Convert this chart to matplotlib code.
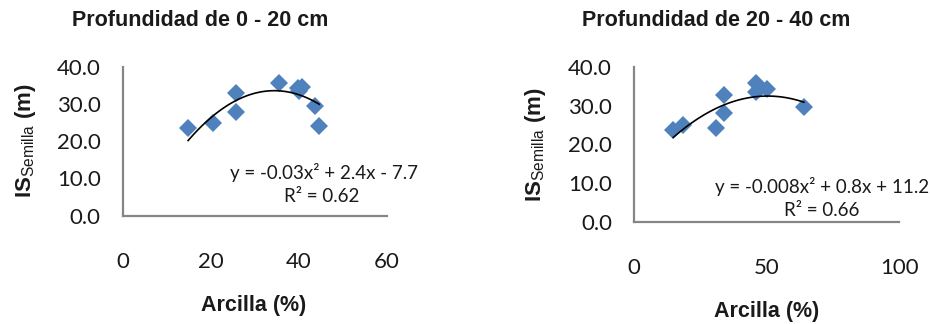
import numpy as np
import matplotlib
matplotlib.use("Agg")
import matplotlib.pyplot as plt

plt.rcParams['font.family'] = ['Lato', 'DejaVu Sans']
plt.rcParams['mathtext.fontset'] = 'custom'
plt.rcParams['mathtext.rm'] = 'Liberation Sans'
plt.rcParams['mathtext.bf'] = 'Liberation Sans:bold'

# 0 - 20 cm
arcilla_0_20 = [14.8, 20.5, 25.7, 25.7, 35.5, 39.8, 40.6, 40.0, 43.6, 44.6]
is_0_20 = [23.5, 24.8, 32.9, 27.9, 35.5, 34.2, 34.6, 33.5, 29.5, 24.1]
coef_0_20 = [-0.0349, 2.4, -7.7]
r2_0_20 = 0.62

# 20 - 40 cm
arcilla_20_40 = [14.7, 18.5, 30.8, 34.0, 34.0, 45.9, 45.9, 50.0, 47.5, 64.0]
is_20_40 = [23.7, 25.0, 24.2, 32.7, 28.0, 35.7, 33.6, 34.2, 34.5, 29.7]
coef_20_40 = [-0.0084, 0.845, 11.2]
r2_20_40 = 0.66

titles = ['Profundidad de 0 - 20 cm', 'Profundidad de 20 - 40 cm']
x_ticks = [[0, 20, 40, 60], [0, 50, 100]]
y_ticks = [0, 10, 20, 30, 40]
eq_labels = ['y = -0.03x² + 2.4x - 7.7', 'y = -0.008x² + 0.8x + 11.2']

BLUE = '#4F81BD'
AXIS = '#868686'
TXT = '#1a1a1a'
BOLD_FAMILY = ['Liberation Sans Narrow', 'Liberation Sans']
W, H = 930, 324

fig = plt.figure(figsize=(W / 100, H / 100), dpi=100)


def fr(x, y):
    return x / W, 1 - y / H


def panel(box, xs, ys, coef, r2, xt, title, eq, title_xy, xlab_xy, ylab_xy, eq_xy, r2_xy):
    l, t, r, b = box
    ax = fig.add_axes([l / W, 1 - b / H, (r - l) / W, (b - t) / H])
    ax.plot(xs, ys, linestyle='none', marker='D', markersize=9.5,
            color=BLUE, markeredgewidth=0, zorder=2)
    # trendline over the range of the data
    xx = np.linspace(min(xs), max(xs), 100)
    ax.plot(xx, np.polyval(coef, xx), color='black', lw=1.2, zorder=3)
    ax.set_xlim(xt[0], xt[-1])
    ax.set_ylim(0, 40)
    ax.set_xticks(xt)
    ax.set_yticks(y_ticks)
    ax.set_yticklabels([f'{v:.1f}' for v in y_ticks])
    for s in ['top', 'right']:
        ax.spines[s].set_visible(False)
    for s in ['left', 'bottom']:
        ax.spines[s].set_color(AXIS)
        ax.spines[s].set_linewidth(1.6)
    ax.tick_params(axis='both', length=0, labelsize=16, colors=TXT)
    ax.tick_params(axis='x', pad=26)
    ax.tick_params(axis='y', pad=16)
    ax.set_facecolor('none')

    fig.text(*fr(*title_xy), title, ha='center', va='center',
             fontsize=15.5, fontweight='bold', color=TXT, family=BOLD_FAMILY)
    fig.text(*fr(*xlab_xy), 'Arcilla (%)', ha='center', va='center',
             fontsize=15.5, fontweight='bold', color=TXT, family=BOLD_FAMILY)
    fig.text(*fr(*ylab_xy), r'IS$_{\mathrm{Semilla}}$ (m)', ha='center', va='center',
             rotation=90, fontsize=16, fontweight='bold', color=TXT, family=BOLD_FAMILY)
    fig.text(*fr(*eq_xy), eq, ha='center', va='center', fontsize=13.5, color=TXT)
    fig.text(*fr(*r2_xy), f'R² = {r2:.2f}', ha='center', va='center',
             fontsize=13.5, color=TXT)
    return ax


panel((123, 66.7, 387, 215.7), arcilla_0_20, is_0_20, coef_0_20, r2_0_20,
      x_ticks[0], titles[0], eq_labels[0],
      (200, 21), (254, 305), (25, 141), (324, 172), (322, 197))
panel((634.3, 66.7, 899.3, 222.3), arcilla_20_40, is_20_40, coef_20_40, r2_20_40,
      x_ticks[1], titles[1], eq_labels[1],
      (716, 21), (767, 311), (535, 145), (822, 187), (822, 210))

fig.savefig('out.png', dpi=100)
